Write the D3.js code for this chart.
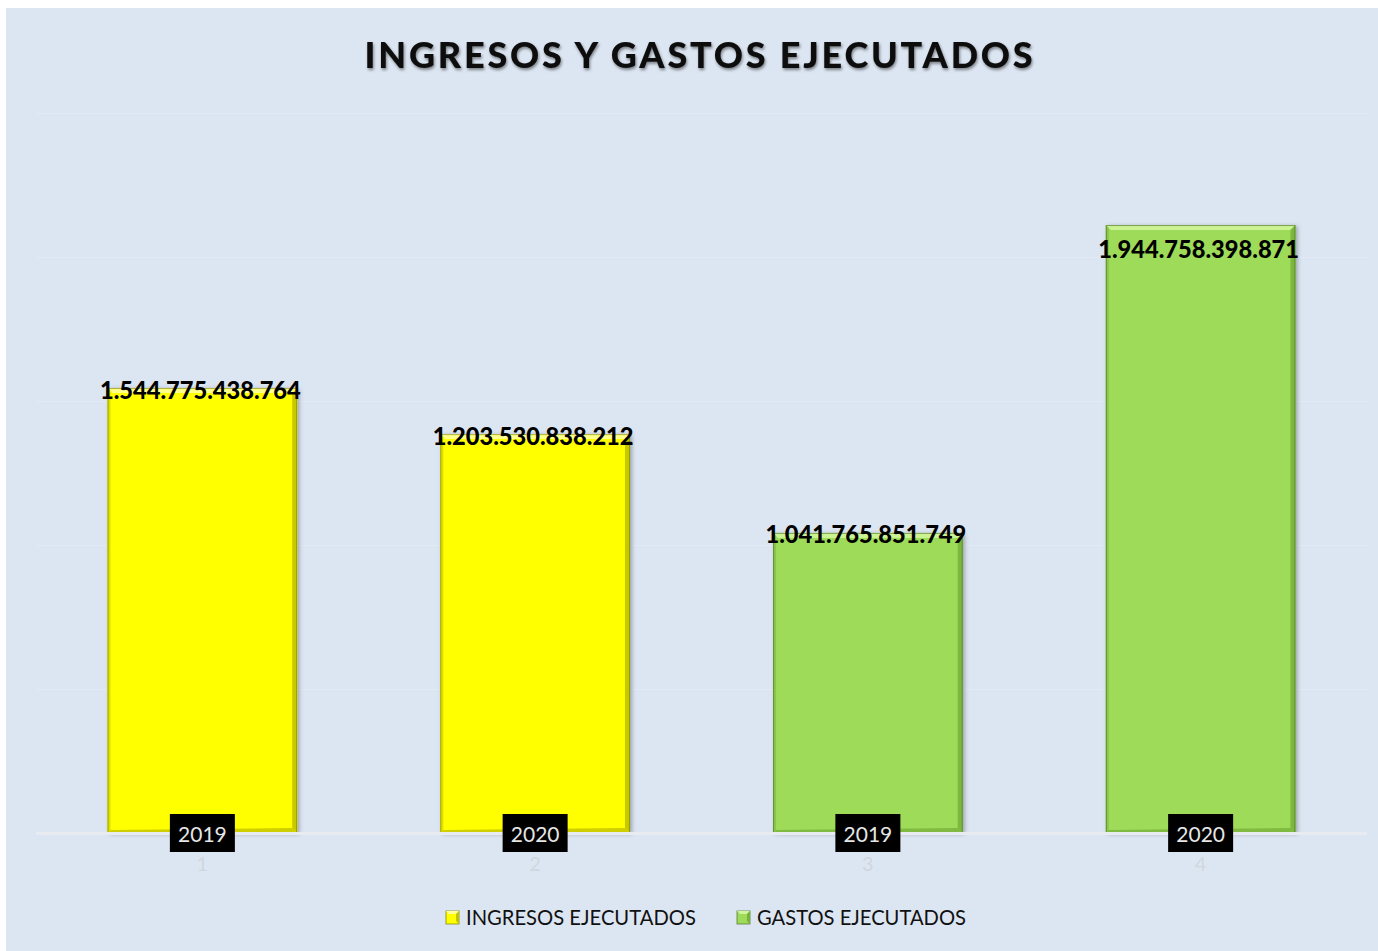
<!DOCTYPE html>
<html><head><meta charset="utf-8">
<script src="https://cdn.jsdelivr.net/npm/d3@7"></script>
<style>body{margin:0;background:#fff}svg{display:block}</style>
</head><body>
<svg id="c" width="1378" height="951"></svg>
<script>
// ---- data ----
const categories = ["1", "2", "3", "4"];
const years = ["2019", "2020", "2019", "2020"];
const barSeries = ["INGRESOS EJECUTADOS", "INGRESOS EJECUTADOS", "GASTOS EJECUTADOS", "GASTOS EJECUTADOS"];
const values = [1.545e12, 1.385e12, 1.042e12, 2.111e12];
const valueLabels = ["1.544.775.438.764", "1.203.530.838.212", "1.041.765.851.749", "1.944.758.398.871"];
const legendNames = ["INGRESOS EJECUTADOS", "GASTOS EJECUTADOS"];
const yTicks = [0, 0.5e12, 1e12, 1.5e12, 2e12, 2.5e12];
const titleText = "INGRESOS Y GASTOS EJECUTADOS";

// ---- styles ----
const palette = {
  "INGRESOS EJECUTADOS": {fill: "#ffff00", light: "#ffff9a", dark: "#7a7a00", mid: "#c2c200"},
  "GASTOS EJECUTADOS": {fill: "#9edb58", light: "#cff59a", dark: "#4a6c24", mid: "#78b23c"}
};
const FONT = "Lato, 'Open Sans', sans-serif";

const svg = d3.select("#c");
const defs = svg.append("defs");
const sh = defs.append("filter").attr("id", "tshadow").attr("x", "-10%").attr("y", "-30%").attr("width", "120%").attr("height", "160%");
sh.append("feDropShadow").attr("dx", 1).attr("dy", 2).attr("stdDeviation", 1.4).attr("flood-color", "#000").attr("flood-opacity", 0.45);
const bs = defs.append("filter").attr("id", "bshadow").attr("x", "-10%").attr("y", "-10%").attr("width", "125%").attr("height", "125%");
bs.append("feDropShadow").attr("dx", 2).attr("dy", 1).attr("stdDeviation", 2).attr("flood-color", "#000").attr("flood-opacity", 0.3);

// background
svg.append("rect").attr("x", 6).attr("y", 8).attr("width", 1378 - 6).attr("height", 951 - 8).attr("fill", "#dce6f2");

// scales
const x = d3.scaleBand().domain(categories).range([36, 1367]).paddingInner(0.43).paddingOuter(0.215);
const y = d3.scaleLinear().domain([0, 2.5e12]).range([833, 113]);

// gridlines
svg.append("g").selectAll("line").data(yTicks.slice(1)).join("line")
  .attr("x1", 36).attr("x2", 1367).attr("y1", d => Math.round(y(d)) + 0.5).attr("y2", d => Math.round(y(d)) + 0.5)
  .attr("stroke", "#e3eaf4").attr("stroke-width", 1);

// title
const title = svg.append("text").attr("x", 700).attr("y", 68).attr("text-anchor", "middle")
  .attr("font-family", FONT).attr("font-weight", 900).attr("font-size", 36).attr("fill", "#0a0a0a")
  .attr("filter", "url(#tshadow)").text(titleText);
{
  const w = title.node().getComputedTextLength();
  const n = titleText.length;
  title.attr("letter-spacing", ((668 - w) / (n - 1)).toFixed(2));
}

// bars
const bw = x.bandwidth();
const data = categories.map((c, i) => ({c, v: values[i], s: barSeries[i], yr: years[i], lab: valueLabels[i]}));
const bars = svg.append("g").selectAll("g").data(data).join("g");
bars.append("rect").attr("x", d => x(d.c)).attr("y", d => y(d.v)).attr("width", bw).attr("height", d => y(0) - y(d.v))
  .attr("fill", d => palette[d.s].fill).attr("filter", "url(#bshadow)");
const b = 5;
bars.append("path").attr("d", d => {
  const x0 = x(d.c), x1 = x0 + bw, t = y(d.v);
  return `M${x0},${t}L${x1},${t}L${x1 - b},${t + b}L${x0 + b},${t + b}Z`;
}).attr("fill", d => palette[d.s].light).attr("opacity", 0.9);
bars.append("path").attr("d", d => {
  const x0 = x(d.c), x1 = x0 + bw, t = y(d.v), bt = y(0);
  return `M${x1},${t}L${x1},${bt}L${x1 - b},${bt - b}L${x1 - b},${t + b}Z`;
}).attr("fill", d => palette[d.s].mid).attr("opacity", 0.9);
bars.append("path").attr("d", d => {
  const x0 = x(d.c), t = y(d.v), bt = y(0);
  return `M${x0},${t}L${x0 + 3},${t + 3}L${x0 + 3},${bt - 3}L${x0},${bt}Z`;
}).attr("fill", d => palette[d.s].mid).attr("opacity", 0.5);
bars.append("path").attr("d", d => {
  const x0 = x(d.c), x1 = x0 + bw, bt = y(0);
  return `M${x0},${bt}L${x1},${bt}L${x1 - b},${bt - b}L${x0 + 3},${bt - 3}Z`;
}).attr("fill", d => palette[d.s].mid).attr("opacity", 0.8);
bars.append("rect").attr("x", d => x(d.c) + 0.5).attr("y", d => y(d.v) + 0.5).attr("width", bw - 1).attr("height", d => y(0) - y(d.v) - 1)
  .attr("fill", "none").attr("stroke", d => palette[d.s].dark).attr("stroke-opacity", 0.6).attr("stroke-width", 1);

// baseline
svg.append("line").attr("x1", 36).attr("x2", 1367).attr("y1", y(0) + 0.5).attr("y2", y(0) + 0.5)
  .attr("stroke", "#e8ebf0").attr("stroke-width", 3);

// value labels
const maxV = d3.max(values);
const vl = svg.append("g").selectAll("text").data(data).join("text")
  .attr("x", d => x(d.c) + bw / 2 - 2)
  .attr("y", d => (d.v === maxV ? y(d.v) + 24 : y(d.v) + 2))
  .attr("dy", "0.36em")
  .attr("text-anchor", "middle").attr("font-family", FONT).attr("font-weight", 900).attr("font-size", 24)
  .attr("fill", "#000").text(d => d.lab);
vl.each(function() {
  const w = this.getComputedTextLength();
  d3.select(this).attr("font-size", (24 * 201 / w).toFixed(2));
});

// year boxes
const yb = svg.append("g").selectAll("g").data(data).join("g")
  .attr("transform", d => `translate(${x(d.c) + bw / 2},${y(0)})`);
yb.append("rect").attr("x", -32.5).attr("y", -19).attr("width", 65).attr("height", 38).attr("fill", "#000");
yb.append("text").attr("y", 1).attr("dy", "0.36em").attr("text-anchor", "middle")
  .attr("font-family", FONT).attr("font-size", 21).attr("fill", "#e6e6e6").text(d => d.yr);

// x axis tick labels (faint)
const xAxis = d3.axisBottom(x).tickSize(0).tickPadding(24);
const ax = svg.append("g").attr("transform", `translate(0,${y(0)})`).call(xAxis);
ax.select(".domain").remove();
ax.selectAll("text").attr("font-family", FONT).attr("font-size", 20).attr("fill", "#d1d6dd");

// legend
const legendX = [446, 737];
const lg = svg.append("g").selectAll("g").data(legendNames).join("g")
  .attr("transform", (d, i) => `translate(${legendX[i]},911)`);
lg.append("rect").attr("width", 13).attr("height", 13).attr("fill", d => palette[d].fill)
  .attr("stroke", d => palette[d].dark).attr("stroke-opacity", 0.7).attr("stroke-width", 1);
lg.append("path").attr("d", "M0,0L13,0L10,3L3,3Z").attr("fill", d => palette[d].light);
lg.append("path").attr("d", "M13,0L13,13L10,10L10,3Z").attr("fill", d => palette[d].mid);
const lt = lg.append("text").attr("x", 20).attr("y", 14).attr("font-family", FONT).attr("font-size", 20).attr("fill", "#111")
  .text(d => d);
const targetW = [230, 209];
lt.each(function(d, i) {
  const w = this.getComputedTextLength();
  d3.select(this).attr("font-size", (20 * targetW[i] / w).toFixed(2));
});
</script>
</body></html>
